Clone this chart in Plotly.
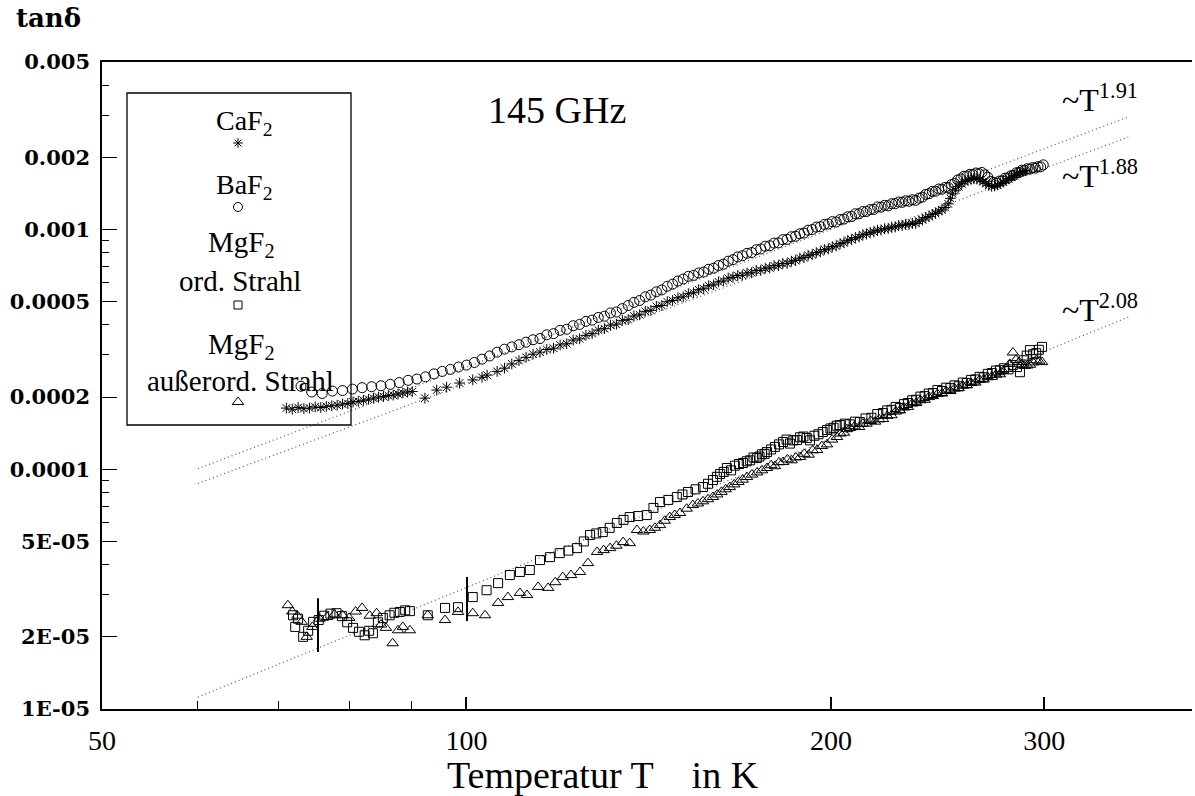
import plotly.graph_objects as go
import math

# ---------------- data ----------------
baf2_T = [73.0, 74.5, 76.0, 77.5, 79.0, 80.5, 82.0, 83.5, 85.0, 86.5, 88.0, 89.5, 91.0, 92.5, 94.0, 95.5, 97.0, 98.5,
          100.0, 101.5, 103.0, 104.5, 106.0, 107.5, 109.0, 110.5, 112.0, 113.5, 115.0, 116.5, 118.0, 119.5, 121.0,
          122.5, 124.0, 125.5, 127.0, 128.5, 130.0, 131.5, 133.0, 134.5, 136.0, 137.5, 139.0, 140.5, 142.0, 143.5,
          145.0, 146.5, 148.0, 149.5, 151.0, 152.5, 154.0, 155.5, 157.0, 158.5, 160.0, 161.5, 163.0, 164.5, 166.0,
          167.5, 169.0, 170.5, 172.0, 173.5, 175.0, 176.5, 178.0, 179.5, 181.0, 182.5, 184.0, 185.5, 187.0, 188.5,
          190.0, 191.5, 193.0, 194.5, 196.0, 197.5, 199.0, 200.5, 202.0, 203.5, 205.0, 206.5, 208.0, 209.5, 211.0,
          212.5, 214.0, 215.5, 217.0, 218.5, 220.0, 221.5, 223.0, 224.5, 226.0, 227.5, 229.0, 230.5, 232.0, 233.5,
          235.0, 236.5, 238.0, 239.5, 241.0, 242.5, 244.0, 245.5, 247.0, 248.5, 250.0, 251.5, 253.0, 254.5, 256.0,
          257.5, 259.0, 260.5, 262.0, 263.5, 265.0, 266.5, 268.0, 269.5, 271.0, 272.5, 274.0, 275.5, 277.0, 278.5,
          280.0, 281.5, 283.0, 284.5, 286.0, 287.5, 289.0, 290.5, 292.0, 293.5, 295.0, 296.5, 298.0, 299.5]
baf2_tan = [2.22e-4, 2.10e-4, 2.07e-4, 2.12e-4, 2.13e-4, 2.16e-4, 2.19e-4, 2.21e-4, 2.23e-4, 2.26e-4, 2.30e-4, 2.35e-4,
            2.38e-4, 2.43e-4, 2.50e-4, 2.56e-4, 2.61e-4, 2.67e-4, 2.72e-4, 2.79e-4, 2.88e-4, 2.97e-4, 3.08e-4, 3.17e-4,
            3.24e-4, 3.31e-4, 3.39e-4, 3.47e-4, 3.51e-4, 3.64e-4, 3.68e-4, 3.80e-4, 3.84e-4, 3.97e-4, 4.02e-4, 4.14e-4,
            4.19e-4, 4.30e-4, 4.35e-4, 4.49e-4, 4.53e-4, 4.68e-4, 4.82e-4, 4.97e-4, 5.06e-4, 5.24e-4, 5.33e-4, 5.50e-4,
            5.60e-4, 5.80e-4, 5.92e-4, 6.10e-4, 6.22e-4, 6.38e-4, 6.44e-4, 6.59e-4, 6.65e-4, 6.83e-4, 6.90e-4, 7.08e-4,
            7.17e-4, 7.38e-4, 7.49e-4, 7.69e-4, 7.78e-4, 7.96e-4, 8.02e-4, 8.24e-4, 8.30e-4, 8.52e-4, 8.56e-4, 8.78e-4,
            8.80e-4, 9.07e-4, 9.10e-4, 9.33e-4, 9.38e-4, 9.60e-4, 9.67e-4, 9.94e-4, 1.000e-3, 1.024e-3, 1.027e-3,
            1.051e-3, 1.055e-3, 1.079e-3, 1.075e-3, 1.101e-3, 1.106e-3, 1.131e-3, 1.134e-3, 1.164e-3, 1.164e-3,
            1.189e-3, 1.189e-3, 1.212e-3, 1.214e-3, 1.243e-3, 1.240e-3, 1.262e-3, 1.256e-3, 1.282e-3, 1.282e-3,
            1.303e-3, 1.299e-3, 1.319e-3, 1.312e-3, 1.332e-3, 1.324e-3, 1.352e-3, 1.365e-3, 1.402e-3, 1.411e-3,
            1.443e-3, 1.445e-3, 1.476e-3, 1.473e-3, 1.500e-3, 1.498e-3, 1.540e-3, 1.557e-3, 1.610e-3, 1.628e-3,
            1.668e-3, 1.672e-3, 1.700e-3, 1.694e-3, 1.722e-3, 1.712e-3, 1.730e-3, 1.692e-3, 1.655e-3, 1.588e-3,
            1.572e-3, 1.562e-3, 1.593e-3, 1.598e-3, 1.638e-3, 1.640e-3, 1.676e-3, 1.682e-3, 1.724e-3, 1.732e-3,
            1.768e-3, 1.766e-3, 1.793e-3, 1.787e-3, 1.813e-3, 1.804e-3, 1.830e-3, 1.826e-3, 1.862e-3]

caf2_T = [71.0, 71.8, 72.6, 73.4, 74.2, 75.0, 75.8, 76.6, 77.4, 78.2, 79.0, 79.8, 80.6, 81.4, 82.2, 83.0, 83.8, 84.6,
          85.4, 86.2, 87.0, 87.8, 88.6, 89.4, 90.2, 92.4, 94.5, 96.3, 98.7, 101.2, 103.0, 104.0, 106.0, 107.5, 109.0,
          110.5, 112.0, 113.5, 115.0, 116.5, 118.0, 119.5, 121.0, 122.5, 124.0, 125.5, 127.0, 128.5, 130.0, 131.5,
          133.0, 134.5, 136.0, 137.5, 139.0, 140.5, 142.0, 143.5, 145.0, 146.5, 148.0, 149.5, 151.0, 152.5, 154.0,
          155.5, 157.0, 158.5, 160.0, 161.5, 163.0, 164.5, 166.0, 167.5, 169.0, 170.5, 172.0, 173.5, 175.0, 176.5,
          178.0, 179.5, 181.0, 182.5, 184.0, 185.5, 187.0, 188.5, 190.0, 191.5, 193.0, 194.5, 196.0, 197.5, 199.0,
          200.5, 202.0, 203.5, 205.0, 206.5, 208.0, 209.5, 211.0, 212.5, 214.0, 215.5, 217.0, 218.5, 220.0, 221.5,
          223.0, 224.5, 226.0, 227.5, 229.0, 230.5, 232.0, 233.5, 235.0, 236.5, 238.0, 239.5, 241.0, 242.5, 244.0,
          245.5, 247.0, 248.5, 250.0, 251.0, 252.0, 253.5, 255.0, 256.5, 258.0, 259.5, 261.0, 262.5, 264.0, 265.5,
          267.0, 268.5, 270.0, 271.5, 273.0, 274.5, 276.0, 277.5, 279.0, 280.5, 282.0, 283.5, 285.0, 286.5, 288.0,
          289.5]
caf2_tan = [1.80e-4, 1.78e-4, 1.81e-4, 1.79e-4, 1.80e-4, 1.82e-4, 1.81e-4, 1.83e-4, 1.84e-4, 1.85e-4, 1.87e-4, 1.88e-4,
            1.91e-4, 1.92e-4, 1.94e-4, 1.96e-4, 1.98e-4, 2.00e-4, 2.01e-4, 2.03e-4, 2.04e-4, 2.06e-4, 2.08e-4, 2.10e-4,
            2.11e-4, 1.98e-4, 2.14e-4, 2.20e-4, 2.29e-4, 2.36e-4, 2.42e-4, 2.47e-4, 2.56e-4, 2.64e-4, 2.75e-4, 2.84e-4,
            2.93e-4, 3.02e-4, 3.08e-4, 3.16e-4, 3.20e-4, 3.30e-4, 3.34e-4, 3.46e-4, 3.50e-4, 3.62e-4, 3.68e-4, 3.81e-4,
            3.86e-4, 3.99e-4, 4.03e-4, 4.18e-4, 4.21e-4, 4.36e-4, 4.41e-4, 4.56e-4, 4.60e-4, 4.78e-4, 4.82e-4, 5.00e-4,
            5.06e-4, 5.19e-4, 5.24e-4, 5.40e-4, 5.45e-4, 5.61e-4, 5.66e-4, 5.83e-4, 5.88e-4, 6.05e-4, 6.10e-4, 6.27e-4,
            6.32e-4, 6.43e-4, 6.45e-4, 6.59e-4, 6.60e-4, 6.75e-4, 6.76e-4, 6.90e-4, 6.92e-4, 7.07e-4, 7.07e-4, 7.22e-4,
            7.22e-4, 7.38e-4, 7.42e-4, 7.60e-4, 7.63e-4, 7.81e-4, 7.85e-4, 8.02e-4, 8.07e-4, 8.26e-4, 8.30e-4, 8.49e-4,
            8.54e-4, 8.74e-4, 8.81e-4, 9.02e-4, 9.07e-4, 9.26e-4, 9.32e-4, 9.52e-4, 9.57e-4, 9.74e-4, 9.77e-4, 9.94e-4,
            9.95e-4, 1.009e-3, 1.008e-3, 1.024e-3, 1.025e-3, 1.040e-3, 1.039e-3, 1.052e-3, 1.050e-3, 1.062e-3, 1.061e-3,
            1.084e-3, 1.097e-3, 1.122e-3, 1.132e-3, 1.156e-3, 1.167e-3, 1.194e-3, 1.207e-3, 1.236e-3, 1.280e-3, 1.350e-3,
            1.410e-3, 1.460e-3, 1.510e-3, 1.550e-3, 1.585e-3, 1.605e-3, 1.620e-3, 1.628e-3, 1.625e-3, 1.610e-3, 1.585e-3,
            1.555e-3, 1.530e-3, 1.515e-3, 1.520e-3, 1.535e-3, 1.555e-3, 1.580e-3, 1.605e-3, 1.630e-3, 1.655e-3, 1.680e-3,
            1.705e-3, 1.730e-3, 1.748e-3, 1.762e-3]

mgf2_ord_T = [71.9, 72.2, 72.6, 73.3, 74.0, 74.7, 75.5, 76.3, 77.2, 78.1, 78.9, 79.7, 80.6, 81.5, 82.4, 83.1, 83.7,
              84.5, 85.3, 86.4, 87.2, 88.1, 89.0, 89.8, 92.9, 96.0, 98.4, 101.2, 103.9, 106.2, 108.6, 110.7, 112.8,
              115.0, 117.2, 119.4, 121.4, 123.4, 125.0, 126.5, 128.0, 129.6, 131.3, 133.1, 134.8, 136.4, 138.6, 140.9,
              142.7, 144.5, 146.8, 149.2, 150.8, 152.4, 154.6, 156.8, 158.3, 159.8, 161.0, 162.0, 163.1, 164.1, 165.4,
              166.6, 167.9, 169.2, 170.4, 171.5, 172.6, 173.7, 174.6, 175.4, 176.3, 177.1, 178.5, 179.8, 181.2, 182.6,
              183.8, 185.0, 186.2, 187.5, 188.6, 189.8, 191.0, 192.2, 193.8, 195.3, 196.9, 198.5, 199.8, 201.0, 202.2,
              203.4, 205.3, 207.3, 209.3, 211.3, 213.6, 216.0, 218.4, 220.8, 222.6, 224.4, 226.2, 228.0, 229.8, 231.5,
              233.4, 235.2, 237.1, 239.0, 240.9, 242.8, 244.9, 247.0, 249.0, 251.0, 253.0, 255.0, 257.0, 259.0, 261.1,
              263.2, 265.3, 267.4, 269.5, 271.6, 273.7, 275.8, 278.0, 280.3, 282.6, 284.9, 286.5, 288.5, 290.2, 292.0,
              293.8, 295.5, 297.0, 298.8]
mgf2_ord_tan = [2.46e-5, 2.20e-5, 2.38e-5, 2.00e-5, 2.12e-5, 2.31e-5, 2.35e-5, 2.45e-5, 2.50e-5, 2.51e-5, 2.44e-5,
                2.30e-5, 2.18e-5, 2.10e-5, 2.03e-5, 2.12e-5, 2.07e-5, 2.30e-5, 2.40e-5, 2.46e-5, 2.52e-5, 2.54e-5,
                2.58e-5, 2.56e-5, 2.46e-5, 2.64e-5, 2.66e-5, 2.93e-5, 3.13e-5, 3.35e-5, 3.62e-5, 3.73e-5, 3.80e-5,
                4.18e-5, 4.30e-5, 4.47e-5, 4.58e-5, 4.69e-5, 5.00e-5, 5.32e-5, 5.40e-5, 5.47e-5, 5.70e-5, 5.97e-5,
                6.15e-5, 6.32e-5, 6.38e-5, 6.44e-5, 6.90e-5, 7.30e-5, 7.45e-5, 7.66e-5, 7.85e-5, 8.04e-5, 8.25e-5,
                8.43e-5, 8.70e-5, 9.02e-5, 9.30e-5, 9.55e-5, 9.75e-5, 1.012e-4, 9.90e-5, 1.035e-4, 1.052e-4, 1.062e-4,
                1.08e-4, 1.09e-4, 1.12e-4, 1.114e-4, 1.13e-4, 1.155e-4, 1.16e-4, 1.18e-4, 1.21e-4, 1.24e-4, 1.27e-4,
                1.299e-4, 1.33e-4, 1.28e-4, 1.32e-4, 1.324e-4, 1.36e-4, 1.37e-4, 1.35e-4, 1.32e-4, 1.38e-4, 1.40e-4,
                1.43e-4, 1.458e-4, 1.48e-4, 1.49e-4, 1.52e-4, 1.529e-4, 1.55e-4, 1.54e-4, 1.58e-4, 1.574e-4, 1.63e-4,
                1.64e-4, 1.70e-4, 1.716e-4, 1.76e-4, 1.77e-4, 1.82e-4, 1.80e-4, 1.87e-4, 1.89e-4, 1.94e-4, 1.95e-4,
                2.01e-4, 2.02e-4, 2.07e-4, 2.08e-4, 2.14e-4, 2.12e-4, 2.19e-4, 2.18e-4, 2.24e-4, 2.22e-4, 2.30e-4,
                2.29e-4, 2.36e-4, 2.37e-4, 2.43e-4, 2.42e-4, 2.50e-4, 2.52e-4, 2.58e-4, 2.59e-4, 2.64e-4, 2.61e-4,
                2.72e-4, 2.67e-4, 2.54e-4, 2.85e-4, 2.98e-4, 3.14e-4, 3.02e-4, 3.05e-4, 3.15e-4, 3.24e-4]

mgf2_ext_T = [71.2, 71.8, 72.5, 73.1, 73.8, 74.6, 75.6, 76.7, 77.8, 79.0, 80.0, 81.0, 82.0, 83.2, 84.3, 85.0, 85.8,
              86.9, 87.8, 88.6, 89.8, 92.9, 96.0, 98.4, 101.2, 103.6, 106.2, 108.2, 110.7, 112.2, 114.6, 116.8, 118.4,
              120.1, 122.0, 124.1, 126.0, 128.2, 129.8, 131.4, 133.0, 134.7, 136.4, 138.3, 140.0, 141.7, 143.1, 144.5,
              145.8, 147.2, 148.6, 150.1, 152.0, 153.8, 155.3, 156.8, 158.3, 159.8, 161.1, 162.4, 163.7, 165.0, 166.4,
              167.7, 169.1, 170.5, 172.1, 173.8, 175.4, 177.1, 178.5, 179.8, 181.2, 182.6, 184.1, 185.6, 187.1, 188.6,
              190.1, 191.7, 193.2, 194.8, 196.6, 198.5, 200.4, 202.3, 203.6, 205.0, 206.2, 207.4, 209.2, 211.0, 212.5,
              214.0, 215.7, 217.5, 219.2, 220.8, 222.6, 224.4, 226.2, 228.0, 229.8, 231.5, 233.4, 235.2, 237.1, 239.0,
              240.9, 242.8, 244.9, 247.0, 249.0, 251.0, 253.0, 255.0, 257.0, 259.0, 261.1, 263.2, 265.3, 267.4, 269.5,
              271.6, 273.7, 275.8, 277.4, 279.0, 281.0, 282.7, 284.3, 286.0, 287.5, 289.0, 290.5, 292.0, 293.8, 295.5,
              297.2, 298.8]
mgf2_ext_tan = [2.71e-5, 2.55e-5, 2.45e-5, 2.31e-5, 2.00e-5, 2.20e-5, 2.38e-5, 2.42e-5, 2.48e-5, 2.46e-5, 2.40e-5,
                2.55e-5, 2.64e-5, 2.45e-5, 2.51e-5, 2.25e-5, 2.18e-5, 1.88e-5, 2.13e-5, 2.20e-5, 2.13e-5, 2.46e-5,
                2.35e-5, 2.54e-5, 2.51e-5, 2.46e-5, 2.77e-5, 2.93e-5, 3.05e-5, 2.99e-5, 3.23e-5, 3.20e-5, 3.38e-5,
                3.55e-5, 3.62e-5, 3.73e-5, 4.06e-5, 4.52e-5, 4.60e-5, 4.69e-5, 4.80e-5, 4.97e-5, 4.92e-5, 5.58e-5,
                5.50e-5, 5.58e-5, 5.70e-5, 5.85e-5, 6.10e-5, 6.32e-5, 6.45e-5, 6.57e-5, 6.85e-5, 7.09e-5, 7.20e-5,
                7.35e-5, 7.50e-5, 7.66e-5, 7.85e-5, 8.05e-5, 8.25e-5, 8.43e-5, 8.65e-5, 8.85e-5, 9.05e-5, 9.28e-5,
                9.50e-5, 9.70e-5, 9.90e-5, 1.012e-4, 1.04e-4, 1.03e-4, 1.07e-4, 1.072e-4, 1.10e-4, 1.09e-4, 1.12e-4,
                1.125e-4, 1.16e-4, 1.15e-4, 1.20e-4, 1.203e-4, 1.25e-4, 1.27e-4, 1.33e-4, 1.363e-4, 1.41e-4, 1.42e-4,
                1.47e-4, 1.486e-4, 1.51e-4, 1.50e-4, 1.55e-4, 1.55e-4, 1.59e-4, 1.58e-4, 1.615e-4, 1.62e-4, 1.67e-4,
                1.68e-4, 1.74e-4, 1.76e-4, 1.81e-4, 1.82e-4, 1.88e-4, 1.89e-4, 1.94e-4, 1.95e-4, 2.00e-4, 2.02e-4,
                2.06e-4, 2.07e-4, 2.12e-4, 2.12e-4, 2.17e-4, 2.18e-4, 2.23e-4, 2.24e-4, 2.29e-4, 2.30e-4, 2.36e-4,
                2.37e-4, 2.42e-4, 2.43e-4, 2.48e-4, 2.49e-4, 2.57e-4, 2.62e-4, 2.75e-4, 3.07e-4, 2.86e-4, 2.80e-4,
                2.74e-4, 2.70e-4, 2.71e-4, 2.73e-4, 2.79e-4, 2.85e-4, 2.82e-4, 2.80e-4]

# vertical bars (error marks) in the MgF2 low-temperature region
bar_T = [75.4, 100.1]
bar_lo = [1.73e-5, 2.33e-5]
bar_hi = [2.90e-5, 3.55e-5]

# power-law fit lines (end points)
fit_T = [60.0, 352.0]
fit_191 = [1.006e-4, 2.95e-3]
fit_188 = [8.73e-5, 2.43e-3]
fit_208 = [1.12e-5, 4.31e-4]

x_tickvals = [50, 100, 200, 300]
x_ticktext = ["50", "100", "200", "300"]
x_minor = [60, 70, 80, 90]
y_tickvals = [1e-5, 2e-5, 5e-5, 1e-4, 2e-4, 5e-4, 1e-3, 2e-3, 5e-3]
y_ticktext = ["1E-05", "2E-05", "5E-05", "0.0001", "0.0002", "0.0005", "0.001", "0.002", "0.005"]
y_minor = [3e-5, 4e-5, 6e-5, 7e-5, 8e-5, 9e-5, 3e-4, 4e-4, 6e-4, 7e-4, 8e-4, 9e-4, 3e-3, 4e-3]

legend_labels = ["CaF<sub>2</sub>", "BaF<sub>2</sub>", "MgF<sub>2</sub>", "ord. Strahl", "MgF<sub>2</sub>",
                 "außerord. Strahl"]

# ---------------- figure ----------------
W, H = 1195, 796
L, R, T, B = 102, 3, 62, 87
pw, ph = W - L - R, H - T - B


def px(xp):
    return (xp - L) / pw


def py(yp):
    return (H - B - yp) / ph


fig = go.Figure()
dot = dict(color="#555555", width=1.2, dash="1px,3px")
for fy in (fit_191, fit_188, fit_208):
    fig.add_trace(go.Scatter(x=fit_T, y=fy, mode="lines", line=dot, hoverinfo="skip"))

mk_line = dict(color="black", width=1)
fig.add_trace(go.Scatter(x=caf2_T, y=caf2_tan, mode="markers",
                         marker=dict(symbol="asterisk-open", size=9, color="black", line=mk_line)))
fig.add_trace(go.Scatter(x=baf2_T, y=baf2_tan, mode="markers",
                         marker=dict(symbol="circle-open", size=10, color="black", line=mk_line)))
fig.add_trace(go.Scatter(x=mgf2_ord_T, y=mgf2_ord_tan, mode="markers",
                         marker=dict(symbol="square-open", size=9, color="black", line=mk_line)))
fig.add_trace(go.Scatter(x=mgf2_ext_T, y=mgf2_ext_tan, mode="markers",
                         marker=dict(symbol="triangle-up-open", size=10, color="black", line=mk_line)))

bx, byy = [], []
for t, lo, hi in zip(bar_T, bar_lo, bar_hi):
    bx += [t, t, None]
    byy += [lo, hi, None]
fig.add_trace(go.Scatter(x=bx, y=byy, mode="lines", line=dict(color="black", width=2), hoverinfo="skip"))

# legend sample markers on an overlay (paper-like) axis
leg_sym = ["asterisk-open", "circle-open", "square-open", "triangle-up-open"]
leg_size = [8, 9, 8, 10]
leg_xy = [(238, 143), (238, 207), (238, 305), (238, 402)]
for s, sz, (lx, ly) in zip(leg_sym, leg_size, leg_xy):
    fig.add_trace(go.Scatter(x=[px(lx)], y=[py(ly)], mode="markers", xaxis="x2", yaxis="y2",
                             marker=dict(symbol=s, size=sz, color="black", line=mk_line), hoverinfo="skip"))

serif = "Liberation Serif"
ann = []
leg_pos = [(244, 122, 28), (244, 186, 28), (241, 244, 29), (240, 281, 29), (241, 346, 29), (240, 381, 29)]
for txt, (lx, ly, fs) in zip(legend_labels, leg_pos):
    ann.append(dict(x=px(lx), y=py(ly), xref="paper", yref="paper", text=txt, showarrow=False,
                    xanchor="center", yanchor="middle", font=dict(family=serif, size=fs, color="black")))

ann.append(dict(x=px(557), y=py(110), xref="paper", yref="paper", text="145 GHz", showarrow=False,
                xanchor="center", yanchor="middle", font=dict(family=serif, size=38, color="black")))
for txt, (lx, ly) in zip(["~T<sup>1.91</sup>", "~T<sup>1.88</sup>", "~T<sup>2.08</sup>"],
                         [(1060, 120), (1060, 196), (1060, 330)]):
    ann.append(dict(x=px(lx), y=py(ly), xref="paper", yref="paper", text=txt, showarrow=False,
                    xanchor="left", yanchor="bottom", font=dict(family=serif, size=32, color="black")))

ann.append(dict(x=px(14), y=py(18), xref="paper", yref="paper", text="tanδ", showarrow=False,
                xanchor="left", yanchor="middle",
                font=dict(family="DejaVu Serif", size=26, color="black", weight="bold")))
ann.append(dict(x=px(603), y=py(775), xref="paper", yref="paper", text="Temperatur T\u00a0\u00a0\u00a0 in K",
                showarrow=False, xanchor="center", yanchor="middle",
                font=dict(family=serif, size=38, color="black")))

shapes = [dict(type="rect", xref="paper", yref="paper", x0=px(127), x1=px(351), y0=py(425), y1=py(93),
               line=dict(color="black", width=1.3), fillcolor="rgba(0,0,0,0)")]

fig.update_layout(
    width=W, height=H, margin=dict(l=L, r=R, t=T, b=B, pad=0),
    paper_bgcolor="white", plot_bgcolor="white", showlegend=False,
    annotations=ann, shapes=shapes,
    xaxis=dict(type="log", range=[math.log10(50), math.log10(397.4)],
               tickmode="array", tickvals=x_tickvals, ticktext=x_ticktext,
               ticks="inside", ticklen=12, tickwidth=1.5, tickcolor="black",
               minor=dict(tickmode="array", tickvals=x_minor, ticks="inside", ticklen=8, tickwidth=1.2,
                          tickcolor="black", showgrid=False),
               showline=True, linewidth=1.6, linecolor="black", mirror=True,
               showgrid=False, zeroline=False, ticklabelstandoff=6,
               tickfont=dict(family=serif, size=28, color="black")),
    yaxis=dict(type="log", range=[-5, math.log10(0.005)],
               tickmode="array", tickvals=y_tickvals, ticktext=y_ticktext,
               ticks="inside", ticklen=15, tickwidth=1.3, tickcolor="black",
               minor=dict(tickmode="array", tickvals=y_minor, ticks="inside", ticklen=7, tickwidth=1,
                          tickcolor="black", showgrid=False),
               showline=True, linewidth=1.6, linecolor="black", mirror=False,
               showgrid=False, zeroline=False, ticklabelstandoff=6,
               tickfont=dict(family="DejaVu Serif", size=21, color="black", weight="bold")),
    xaxis2=dict(overlaying="x", range=[0, 1], visible=False, anchor="y2", fixedrange=True),
    yaxis2=dict(overlaying="y", range=[0, 1], visible=False, anchor="x2", fixedrange=True),
)

fig.write_html("out.html")
